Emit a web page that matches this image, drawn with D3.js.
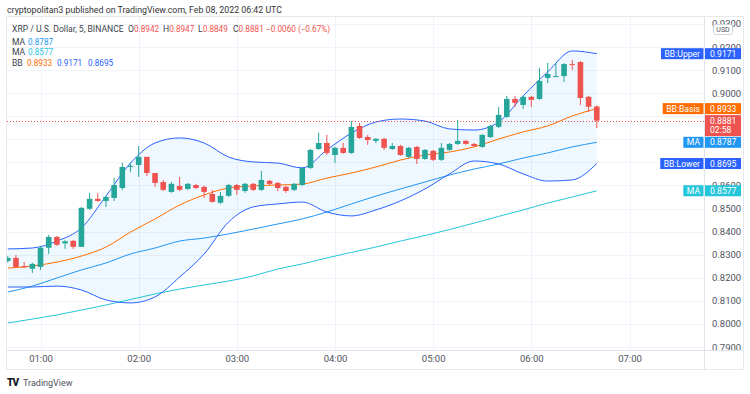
<!DOCTYPE html>
<html>
<head>
<meta charset="utf-8">
<script src="https://cdn.jsdelivr.net/npm/d3@7"></script>
<style>
  body { margin: 0; background: #fff; }
  text { font-family: Roboto, sans-serif; }
</style>
</head>
<body>
<div id="chart"></div>
<script>
// XRP / U.S. Dollar, 5 min candles, BINANCE
var opens  = [0.8273,0.8286,0.8250,0.8239,0.8247,0.8330,0.8377,0.8349,0.8360,0.8334,0.8499,0.8542,0.8533,0.8546,0.8589,0.8680,0.8689,0.8724,0.8654,0.8615,0.8572,0.8598,0.8585,0.8602,0.8594,0.8563,0.8525,0.8555,0.8602,0.8576,0.8607,0.8581,0.8620,0.8611,0.8594,0.8581,0.8602,0.8676,0.8758,0.8784,0.8732,0.8763,0.8741,0.8858,0.8810,0.8793,0.8802,0.8758,0.8771,0.8724,0.8767,0.8715,0.8750,0.8711,0.8754,0.8780,0.8793,0.8780,0.8767,0.8810,0.8854,0.8897,0.8975,0.8949,0.8984,0.8975,0.9066,0.9070,0.9074,0.9126,0.9135,0.8984,0.8942];
var highs  = [0.8295,0.8299,0.8269,0.8265,0.8338,0.8386,0.8381,0.8364,0.8364,0.8507,0.8568,0.8568,0.8555,0.8633,0.8698,0.8698,0.8771,0.8724,0.8654,0.8624,0.8615,0.8637,0.8611,0.8607,0.8598,0.8581,0.8572,0.8607,0.8607,0.8611,0.8611,0.8663,0.8624,0.8615,0.8598,0.8611,0.8680,0.8758,0.8828,0.8819,0.8767,0.8784,0.8880,0.8871,0.8819,0.8806,0.8806,0.8784,0.8776,0.8767,0.8771,0.8758,0.8754,0.8784,0.8784,0.8884,0.8797,0.8784,0.8823,0.8862,0.8940,0.8988,0.8988,0.8988,0.8988,0.9109,0.9131,0.9131,0.9130,0.9144,0.9139,0.8988,0.8947];
var lows   = [0.8265,0.8243,0.8243,0.8221,0.8234,0.8303,0.8338,0.8325,0.8325,0.8334,0.8494,0.8529,0.8507,0.8533,0.8581,0.8659,0.8637,0.8641,0.8594,0.8576,0.8568,0.8576,0.8581,0.8585,0.8546,0.8525,0.8520,0.8550,0.8559,0.8568,0.8576,0.8576,0.8602,0.8576,0.8568,0.8576,0.8598,0.8672,0.8754,0.8732,0.8698,0.8737,0.8737,0.8802,0.8776,0.8784,0.8754,0.8754,0.8728,0.8719,0.8693,0.8711,0.8706,0.8706,0.8750,0.8776,0.8776,0.8767,0.8763,0.8806,0.8849,0.8893,0.8940,0.8932,0.8940,0.8971,0.9044,0.9070,0.9048,0.9100,0.8949,0.8919,0.8849];
var closes = [0.8286,0.8247,0.8245,0.8260,0.8330,0.8377,0.8343,0.8358,0.8334,0.8503,0.8542,0.8533,0.8550,0.8602,0.8680,0.8685,0.8724,0.8654,0.8611,0.8581,0.8607,0.8581,0.8607,0.8589,0.8572,0.8529,0.8555,0.8602,0.8581,0.8607,0.8581,0.8624,0.8607,0.8589,0.8576,0.8607,0.8676,0.8754,0.8784,0.8741,0.8763,0.8741,0.8854,0.8806,0.8797,0.8802,0.8763,0.8771,0.8732,0.8763,0.8715,0.8754,0.8711,0.8763,0.8780,0.8793,0.8780,0.8771,0.8819,0.8858,0.8906,0.8975,0.8958,0.8984,0.8971,0.9053,0.9083,0.9074,0.9126,0.9122,0.8979,0.8941,0.8881];

// indicator values read every 3rd candle
var bandIdx = [0,3,6,9,12,15,18,21,24,27,30,33,36,39,42,45,48,51,54,57,60,63,66,69,72];
var bbUpper = [0.8325,0.8329,0.8359,0.8416,0.8554,0.8697,0.8784,0.8806,0.8784,0.8723,0.8702,0.8697,0.8676,0.8754,0.8827,0.8875,0.8888,0.8879,0.8845,0.8840,0.8875,0.8988,0.9092,0.9183,0.9171];
var bbBasis = [0.8242,0.8251,0.8268,0.8294,0.8333,0.8398,0.8455,0.8515,0.8559,0.8589,0.8598,0.8602,0.8606,0.8632,0.8654,0.8680,0.8710,0.8732,0.8745,0.8767,0.8801,0.8832,0.8858,0.8901,0.8933];
var bbLower = [0.8160,0.8160,0.8164,0.8147,0.8104,0.8091,0.8117,0.8203,0.8303,0.8442,0.8507,0.8520,0.8528,0.8485,0.8468,0.8494,0.8533,0.8585,0.8650,0.8706,0.8693,0.8650,0.8619,0.8624,0.8695];
var ma1     = [0.8138,0.8164,0.8199,0.8234,0.8264,0.8303,0.8329,0.8359,0.8372,0.8390,0.8411,0.8433,0.8455,0.8485,0.8520,0.8554,0.8585,0.8615,0.8645,0.8671,0.8693,0.8719,0.8741,0.8767,0.8787];
var ma2     = [0.8004,0.8021,0.8039,0.8060,0.8082,0.8106,0.8130,0.8151,0.8169,0.8186,0.8208,0.8238,0.8260,0.8286,0.8310,0.8333,0.8359,0.8383,0.8409,0.8437,0.8466,0.8494,0.8524,0.8550,0.8577];

var yTicks = [0.79,0.80,0.81,0.82,0.83,0.84,0.85,0.86,0.87,0.88,0.89,0.90,0.91,0.92,0.93];

var green = '#26a69a', red = '#ef5350';
var cBB = '#2962ff', cBasis = '#ff6d00', cMA1 = '#2196f3', cMA2 = '#26c6da';
var textDark = '#3b3f4a', textAxis = '#50535e';

var pane = { left: 7, right: 704, top: 17, bottom: 350 };
var svgWidth = 750, svgHeight = 394;

var t0 = Date.UTC(2022, 1, 8, 0, 40);
function tOf(i) { return new Date(t0 + i * 5 * 60000); }

var xscale = d3.scaleUtc()
    .domain([tOf(0), tOf(76)])
    .range([7.8, 629.5]);
var yscale = d3.scaleLinear()
    .domain([0.79, 0.92])
    .range([347, 47]);

var svg = d3.select('#chart').append('svg')
    .attr('width', svgWidth)
    .attr('height', svgHeight);

svg.append('rect').attr('width', svgWidth).attr('height', svgHeight).attr('fill', '#fff');

// header
svg.append('text')
    .attr('x', 7).attr('y', 12.5)
    .attr('font-size', 8.8).attr('fill', '#333')
    .text('cryptopolitan3 published on TradingView.com, Feb 08, 2022 06:42 UTC');

// frame
svg.append('rect')
    .attr('x', 6.5).attr('y', 16.5)
    .attr('width', 743.5 - 6.5).attr('height', 369.5 - 16.5)
    .attr('fill', 'none').attr('stroke', '#e6e8ee');

svg.append('defs').append('clipPath').attr('id', 'pane')
  .append('rect')
    .attr('x', pane.left).attr('y', pane.top)
    .attr('width', pane.right - pane.left).attr('height', pane.bottom - pane.top);

var grid = svg.append('g').attr('clip-path', 'url(#pane)');
var hourTicks = xscale.ticks(d3.utcHour.every(1));

grid.selectAll('.hg').data(yTicks).enter().append('line')
    .attr('x1', pane.left).attr('x2', pane.right)
    .attr('y1', d => Math.round(yscale(d)) + 0.5)
    .attr('y2', d => Math.round(yscale(d)) + 0.5)
    .attr('stroke', '#f0f3fa');
grid.selectAll('.vg').data(hourTicks).enter().append('line')
    .attr('x1', d => Math.round(xscale(d)) + 0.5)
    .attr('x2', d => Math.round(xscale(d)) + 0.5)
    .attr('y1', pane.top).attr('y2', pane.bottom)
    .attr('stroke', '#f0f3fa');

var chartGroup = svg.append('g').attr('clip-path', 'url(#pane)');

// bollinger fill
var bandData = bandIdx.map((d, k) => ({ i: d, up: bbUpper[k], mid: bbBasis[k], lo: bbLower[k], m1: ma1[k], m2: ma2[k] }));

chartGroup.append('path')
    .datum(bandData)
    .attr('fill', 'rgba(33,150,243,0.07)')
    .attr('d', d3.area()
        .x(d => xscale(tOf(d.i)))
        .y0(d => yscale(d.lo))
        .y1(d => yscale(d.up))
        .curve(d3.curveMonotoneX));

function drawLine(key, color) {
    chartGroup.append('path')
        .datum(bandData)
        .attr('fill', 'none')
        .attr('stroke', color)
        .attr('stroke-width', 1)
        .attr('d', d3.line()
            .x(d => xscale(tOf(d.i)))
            .y(d => yscale(d[key]))
            .curve(d3.curveMonotoneX));
}
drawLine('m2', cMA2);
drawLine('m1', cMA1);
drawLine('up', cBB);
drawLine('lo', cBB);
drawLine('mid', cBasis);

// current price line
var lastClose = closes[closes.length - 1];
var prevClose = closes[closes.length - 2];
chartGroup.append('line')
    .attr('x1', pane.left).attr('x2', pane.right)
    .attr('y1', Math.round(yscale(lastClose)) + 0.5)
    .attr('y2', Math.round(yscale(lastClose)) + 0.5)
    .attr('stroke', red).attr('stroke-dasharray', '1,2');

// candles
var candles = opens.map((o, i) => ({ i: i, o: o, h: highs[i], l: lows[i], c: closes[i] }));
var bodyW = 5.6;

chartGroup.selectAll('.wick').data(candles).enter().append('line')
    .attr('x1', d => xscale(tOf(d.i)))
    .attr('x2', d => xscale(tOf(d.i)))
    .attr('y1', d => yscale(d.h))
    .attr('y2', d => yscale(d.l))
    .attr('stroke', d => d.c >= d.o ? green : red)
    .attr('stroke-width', 1);

chartGroup.selectAll('.body').data(candles).enter().append('rect')
    .attr('x', d => xscale(tOf(d.i)) - bodyW / 2)
    .attr('y', d => yscale(Math.max(d.o, d.c)))
    .attr('width', bodyW)
    .attr('height', d => Math.max(1, Math.abs(yscale(d.o) - yscale(d.c))))
    .attr('fill', d => d.c >= d.o ? green : red);

// price axis
svg.append('line')
    .attr('x1', pane.right + 0.5).attr('x2', pane.right + 0.5)
    .attr('y1', pane.top).attr('y2', 369.5)
    .attr('stroke', '#e0e3eb');

var tags = [
    { name: 'MA', v: ma2[ma2.length - 1], color: cMA2 },
    { name: 'BB:Lower', v: bbLower[bbLower.length - 1], color: cBB },
    { name: 'MA', v: ma1[ma1.length - 1], color: cMA1 },
    { name: 'BB:Basis', v: bbBasis[bbBasis.length - 1], color: cBasis },
    { name: 'BB:Upper', v: bbUpper[bbUpper.length - 1], color: cBB }
];

// tick labels that sit under a price tag are hidden, like on the real chart
var yl = yscale(lastClose);
var shownTicks = yTicks.filter(function (v) {
    var yy = yscale(v);
    if (yy > yl - 7 && yy < yl + 17) return false;
    return !tags.some(t => Math.abs(yscale(t.v) - yy) < 5);
});

var rightAxis = d3.axisRight(yscale).tickValues(shownTicks).tickSize(0).tickPadding(8).tickFormat(d3.format('.4f'));
var ya = svg.append('g')
    .attr('transform', `translate(${pane.right}, 0)`)
    .call(rightAxis);
ya.select('.domain').remove();
ya.selectAll('text').attr('font-size', 9.5).attr('fill', textAxis).attr('font-family', 'Roboto, sans-serif');

// time axis
svg.append('line')
    .attr('x1', 6.5).attr('x2', 743.5)
    .attr('y1', pane.bottom + 0.5).attr('y2', pane.bottom + 0.5)
    .attr('stroke', '#e0e3eb');

var bottomAxis = d3.axisBottom(xscale).tickValues(hourTicks).tickSize(0).tickPadding(5).tickFormat(d3.utcFormat('%H:%M'));
var xa = svg.append('g')
    .attr('transform', `translate(0, ${pane.bottom})`)
    .call(bottomAxis);
xa.select('.domain').remove();
xa.selectAll('text').attr('font-size', 9.5).attr('fill', textAxis).attr('font-family', 'Roboto, sans-serif');

// USD badge
svg.append('rect')
    .attr('x', 713.5).attr('y', 24.5).attr('width', 19).attr('height', 10).attr('rx', 2)
    .attr('fill', '#fff').attr('stroke', '#d1d4dc');
svg.append('text')
    .attr('x', 723).attr('y', 32).attr('text-anchor', 'middle')
    .attr('font-size', 7).attr('fill', textAxis).text('USD');

// price tags on the axis
var fmt = d3.format('.4f');
tags.forEach(function (t) {
    var yc = yscale(t.v);
    var g = svg.append('g');
    var nameText = g.append('text')
        .attr('y', yc + 3).attr('font-size', 8.6).attr('fill', '#fff')
        .attr('text-anchor', 'end').attr('x', 700)
        .text(t.name);
    var w = nameText.node().getComputedTextLength() + 7;
    g.insert('rect', 'text')
        .attr('x', 703.5 - w).attr('y', yc - 5.5).attr('width', w).attr('height', 11)
        .attr('fill', t.color);
    g.append('rect')
        .attr('x', 705).attr('y', yc - 5.5).attr('width', 36).attr('height', 11)
        .attr('fill', t.color);
    g.append('text')
        .attr('x', 710).attr('y', yc + 3).attr('font-size', 8.6).attr('fill', '#fff')
        .text(fmt(t.v));
});

// last price tag with countdown
svg.append('rect')
    .attr('x', 705).attr('y', yl - 5.5).attr('width', 36).attr('height', 21)
    .attr('fill', red);
svg.append('text')
    .attr('x', 710).attr('y', yl + 3).attr('font-size', 8.6).attr('fill', '#fff')
    .text(fmt(lastClose));
svg.append('text')
    .attr('x', 710).attr('y', yl + 12.5).attr('font-size', 8.6).attr('fill', '#fff')
    .text('02:58');

// legend
var legend = svg.append('g').attr('font-size', 8.2);
var last = candles[candles.length - 1];
var change = last.c - prevClose;
legend.append('text').attr('x', 12).attr('y', 31.5).attr('font-size', 8.6).attr('fill', textDark).text('XRP / U.S. Dollar, 5, BINANCE');
[['O', last.o, 128], ['H', last.h, 163], ['L', last.l, 198], ['C', last.c, 233]].forEach(function (p) {
    var t = legend.append('text').attr('x', p[2]).attr('y', 31.5).attr('fill', textDark);
    t.append('tspan').attr('font-size', 8.6).text(p[0]);
    t.append('tspan').attr('fill', red).text(fmt(p[1]));
});
legend.append('text').attr('x', 266).attr('y', 31.5).attr('fill', red)
    .text('\u2212' + fmt(Math.abs(change)) + ' (\u2212' + d3.format('.2f')(Math.abs(change) / prevClose * 100) + '%)');

var ma1Row = legend.append('text').attr('x', 12).attr('y', 44.5).attr('fill', textDark);
ma1Row.append('tspan').attr('font-size', 8.6).text('MA');
ma1Row.append('tspan').attr('x', 28).attr('fill', cMA1).text(fmt(ma1[ma1.length - 1]));
var ma2Row = legend.append('text').attr('x', 12).attr('y', 55).attr('fill', textDark);
ma2Row.append('tspan').attr('font-size', 8.6).text('MA');
ma2Row.append('tspan').attr('x', 28).attr('fill', cMA2).text(fmt(ma2[ma2.length - 1]));
var bbRow = legend.append('text').attr('x', 12).attr('y', 65.5).attr('fill', textDark);
bbRow.append('tspan').attr('font-size', 8.6).text('BB');
bbRow.append('tspan').attr('x', 27).attr('fill', cBasis).text(fmt(bbBasis[bbBasis.length - 1]));
bbRow.append('tspan').attr('x', 57).attr('fill', cBB).text(fmt(bbUpper[bbUpper.length - 1]));
bbRow.append('tspan').attr('x', 88).attr('fill', cBB).text(fmt(bbLower[bbLower.length - 1]));

// footer logo
svg.append('text')
    .attr('x', 7).attr('y', 385.5).attr('font-size', 10).attr('font-weight', 900)
    .attr('fill', '#131722').attr('letter-spacing', -1).text('TV');
svg.append('text')
    .attr('x', 23).attr('y', 385.5).attr('font-size', 9).attr('fill', textAxis)
    .text('TradingView');
</script>
</body>
</html>
